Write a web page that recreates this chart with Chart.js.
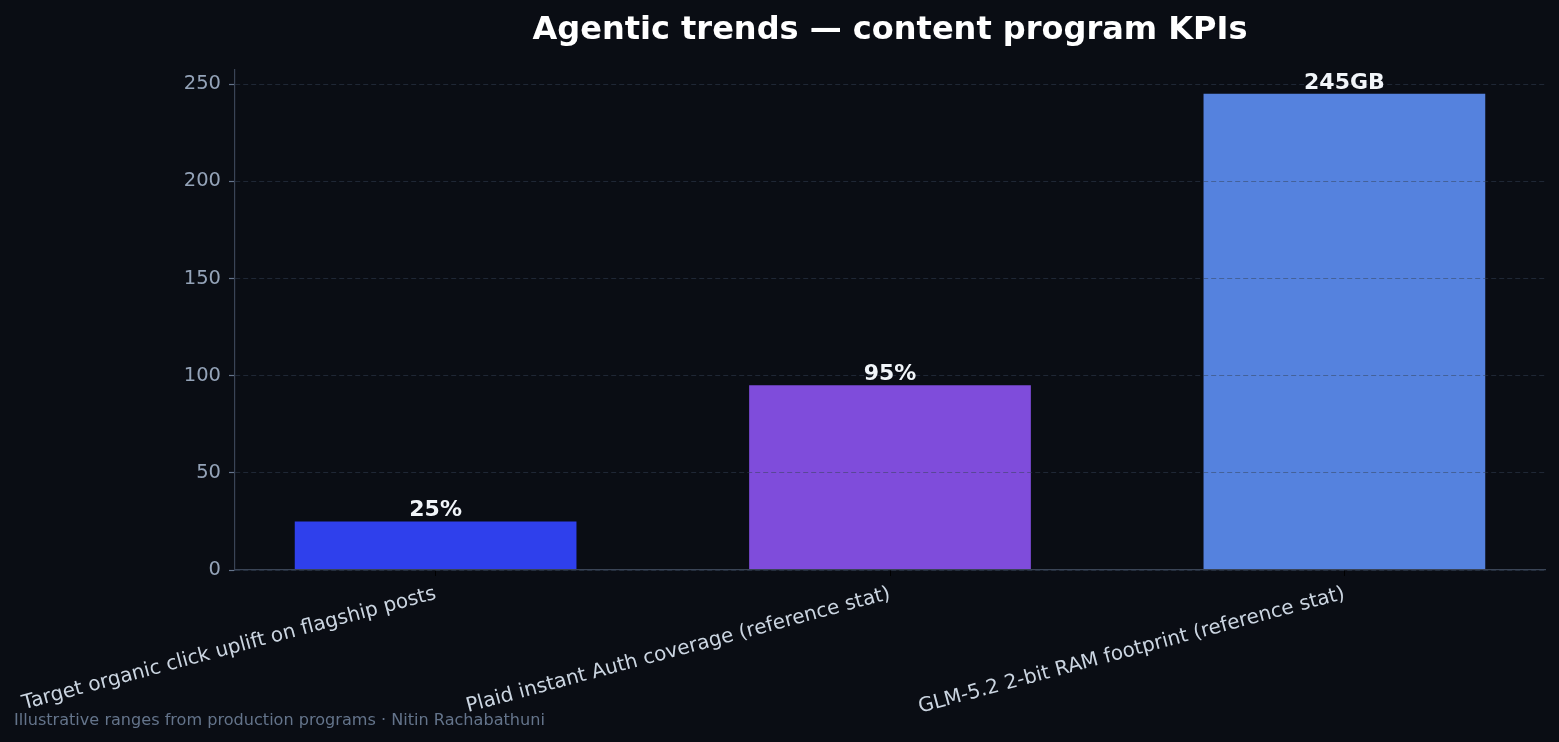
<!DOCTYPE html>
<html>
<head>
<meta charset="utf-8">
<script src="https://cdn.jsdelivr.net/npm/chart.js@4.4.1/dist/chart.umd.min.js"></script>
<style>
  html, body { margin: 0; padding: 0; background: #0a0d14; }
  #wrap { width: 1559px; height: 742px; }
</style>
</head>
<body>
<div id="wrap"><canvas id="c" width="1559" height="742"></canvas></div>
<script>
const categories = [
  'Target organic click uplift on flagship posts',
  'Plaid instant Auth coverage (reference stat)',
  'GLM-5.2 2-bit RAM footprint (reference stat)'
];
const values = [25, 95, 245];
const valueLabels = ['25%', '95%', '245GB'];
const barColors = ['#2f40ec', '#7f4cdb', '#5582de'];
const yTicks = [0, 50, 100, 150, 200, 250];
const titleText = 'Agentic trends — content program KPIs';
const footerText = 'Illustrative ranges from production programs · Nitin Rachabathuni';

const FONT = '"DejaVu Sans", "Liberation Sans", sans-serif';

const bgPlugin = {
  id: 'bg',
  beforeDraw(chart) {
    const ctx = chart.ctx;
    ctx.save();
    ctx.fillStyle = '#0a0d14';
    ctx.fillRect(0, 0, chart.width, chart.height);
    ctx.restore();
  }
};

const textPlugin = {
  id: 'texts',
  afterDraw(chart) {
    const ctx = chart.ctx;
    const area = chart.chartArea;
    const meta = chart.getDatasetMeta(0);
    ctx.save();
    ctx.font = 'bold 22px ' + FONT;
    ctx.fillStyle = '#f1f5f9';
    ctx.textAlign = 'center';
    ctx.textBaseline = 'alphabetic';
    meta.data.forEach((bar, i) => {
      ctx.fillText(valueLabels[i], bar.x, bar.y - 5);
    });
    ctx.font = 'bold 32px ' + FONT;
    ctx.fillStyle = '#ffffff';
    ctx.fillText(titleText, (area.left + area.right) / 2, 39);
    ctx.font = '16.1px ' + FONT;
    ctx.fillStyle = '#64748b';
    ctx.textAlign = 'left';
    ctx.fillText(footerText, 14, 725);
    ctx.restore();
  }
};

new Chart(document.getElementById('c'), {
  type: 'bar',
  data: {
    datasets: [{
      data: values.map((v, i) => ({ x: i, y: v })),
      backgroundColor: barColors,
      borderWidth: 0,
      barPercentage: 0.62,
      categoryPercentage: 1.0
    }]
  },
  options: {
    responsive: false,
    animation: false,
    devicePixelRatio: 1,
    layout: { padding: { left: 0, right: 14, top: 70, bottom: 0 } },
    plugins: {
      legend: { display: false },
      title: { display: false },
      tooltip: { enabled: false }
    },
    scales: {
      x: {
        type: 'linear',
        offset: false,
        min: -0.4415,
        max: 2.4415,
        afterBuildTicks: (scale) => { scale.ticks = categories.map((_, i) => ({ value: i })); },
        afterFit: (scale) => {
          scale.height = 172;
          scale.paddingLeft = 0;
          scale.paddingRight = 0;
        },
        grid: {
          offset: false,
          drawOnChartArea: false,
          drawTicks: true,
          tickLength: 6,
          tickColor: '#000000',
          tickWidth: 1
        },
        border: { display: true, color: '#3a4456', width: 1.2, z: 1 },
        ticks: {
          autoSkip: false,
          minRotation: 15,
          maxRotation: 15,
          padding: 6,
          color: '#cbd5e1',
          font: { family: FONT, size: 20 },
          callback: (value) => categories[value] !== undefined ? categories[value] : ''
        }
      },
      y: {
        min: 0,
        max: 257.25,
        afterBuildTicks: (scale) => { scale.ticks = yTicks.map(v => ({ value: v })); },
        afterFit: (scale) => { scale.width = 235; },
        grid: {
          z: 1,
          color: 'rgba(51,65,85,0.5)',
          lineWidth: 1,
          drawTicks: true,
          tickLength: 6,
          tickColor: '#64748b',
          tickWidth: 1.2,
          tickBorderDash: []
        },
        border: { display: true, color: '#3a4456', width: 1.2, dash: [5, 3], z: 1 },
        ticks: {
          padding: 8,
          color: '#94a3b8',
          font: { family: FONT, size: 19.5 },
          callback: (v) => String(v)
        }
      }
    }
  },
  plugins: [bgPlugin, textPlugin]
});
</script>
</body>
</html>
